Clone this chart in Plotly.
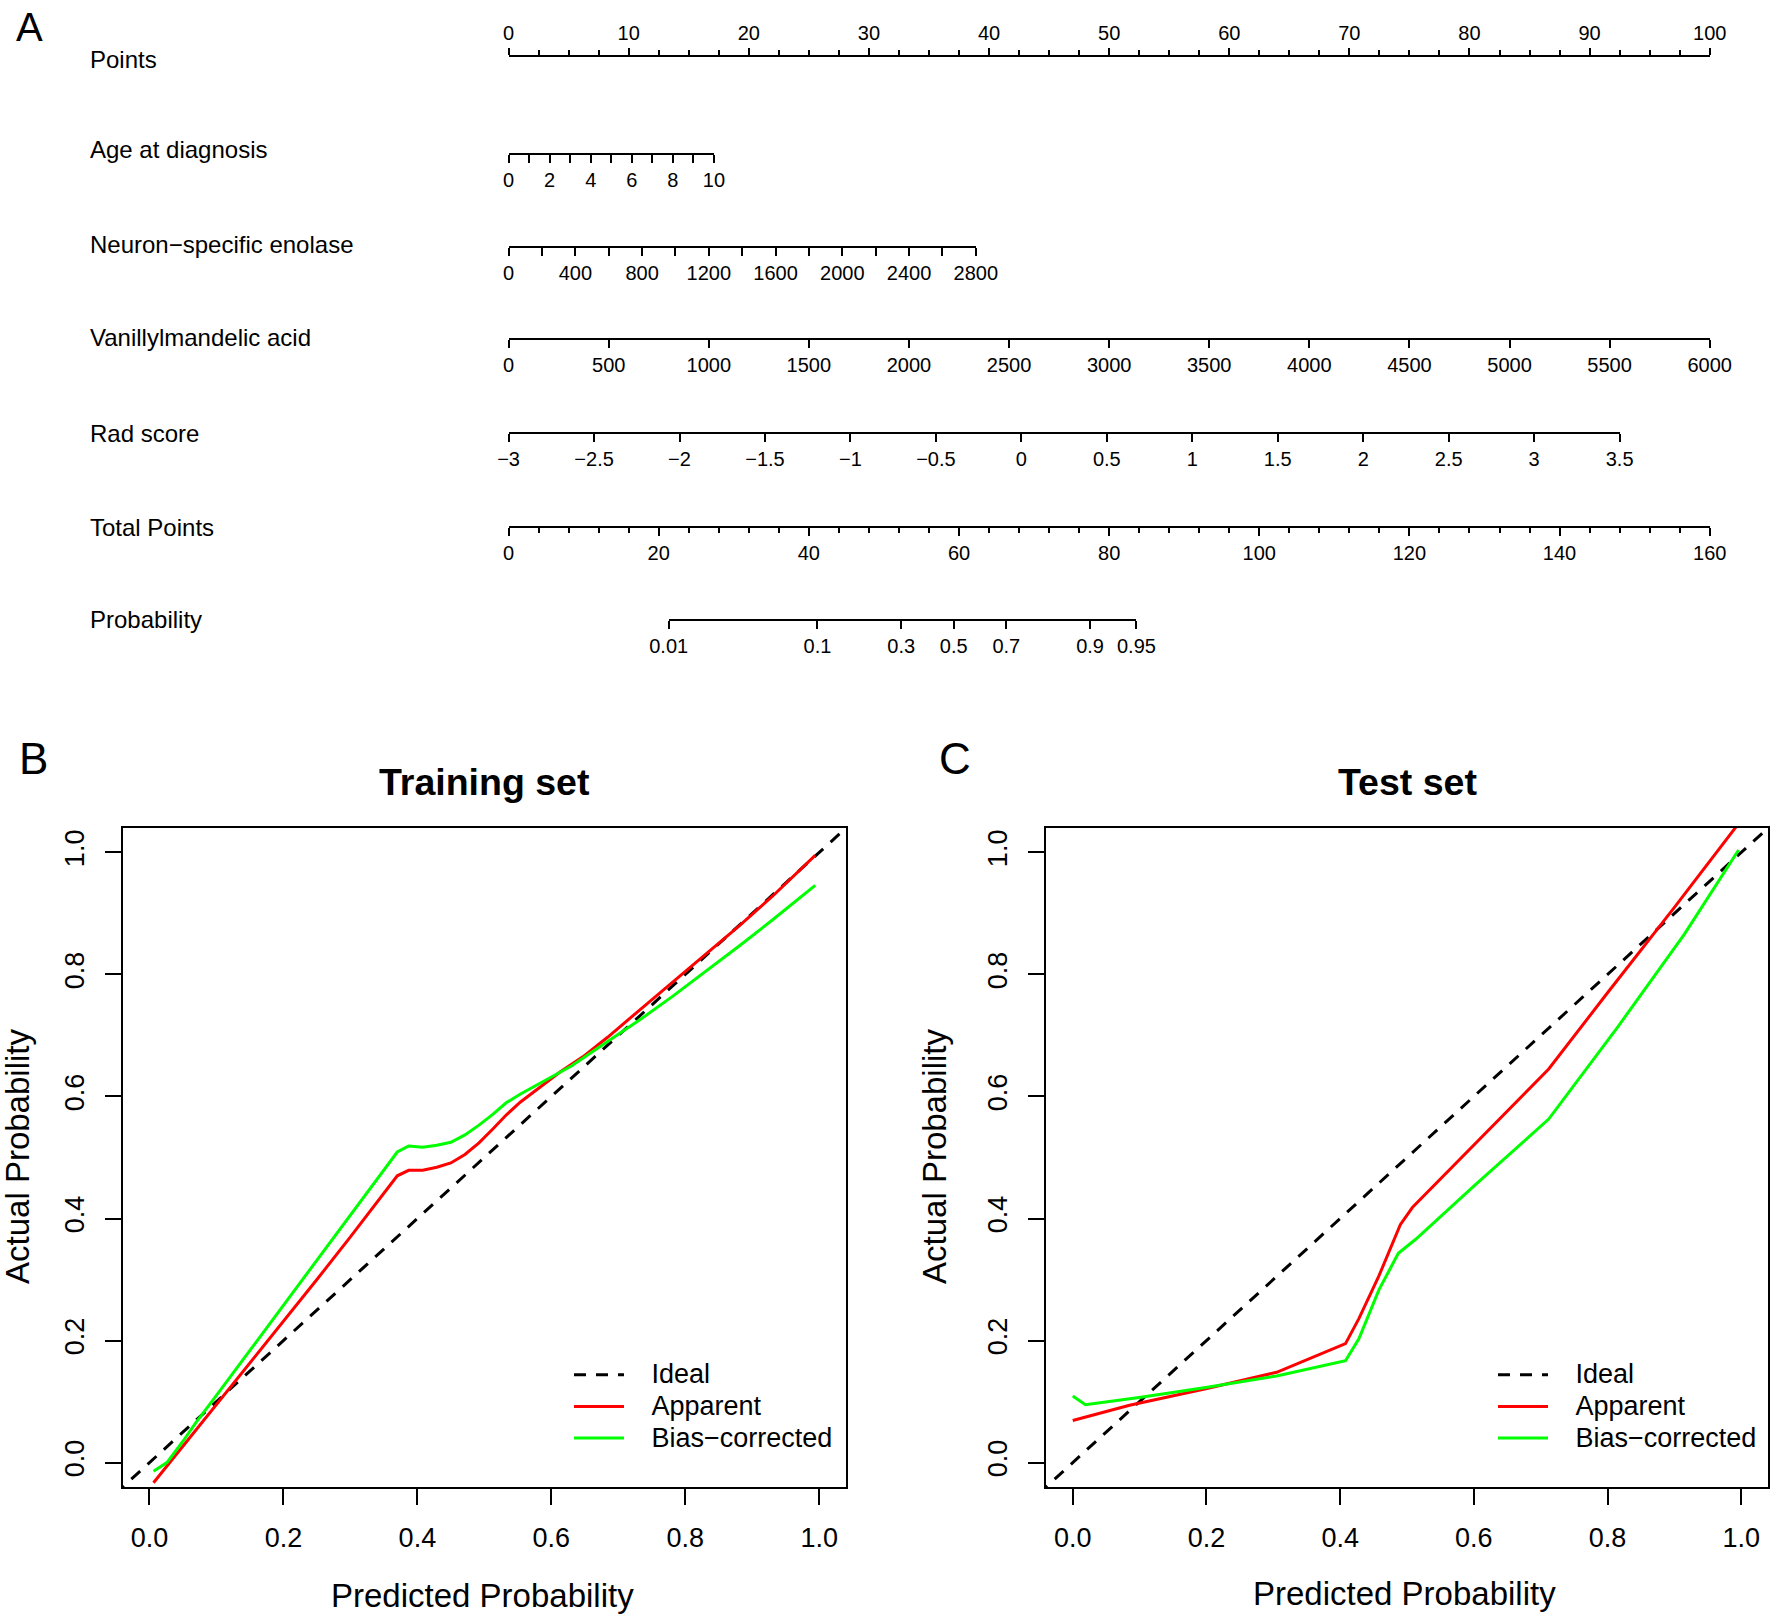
import numpy as np
import plotly.graph_objects as go

W, H = 1770, 1615
FONT = "Liberation Sans, Arial, Helvetica, sans-serif"

# ---------------- Nomogram data ----------------
nomo_names = ["Points", "Age at diagnosis", "Neuron\u2212specific enolase",
              "Vanillylmandelic acid", "Rad score", "Total Points", "Probability"]
points_range = [0, 100]
age_range = [0, 10]
age_points_max = 17.1
nse_range = [0, 2800]
nse_points_max = 38.9
vma_range = [0, 6000]
vma_points_max = 100.0
rad_range = [-3, 3.5]
rad_points_max = 92.5
total_range = [0, 160]
prob_ticks = [0.01, 0.1, 0.3, 0.5, 0.7, 0.9, 0.95]
prob_ticktext = ["0.01", "0.1", "0.3", "0.5", "0.7", "0.9", "0.95"]
prob_total_at_half = 59.3      # total points where probability = 0.5
prob_points_per_logit = 8.264  # total points per unit of log-odds

# ---------------- Calibration data ----------------
train_app_x = [0.006, 0.05, 0.10, 0.15, 0.20, 0.25, 0.30, 0.35, 0.37, 0.387, 0.408, 0.429, 0.45,
               0.471, 0.492, 0.513, 0.533, 0.554, 0.579, 0.613, 0.647, 0.684, 0.730, 0.781,
               0.831, 0.881, 0.931, 0.973, 0.994]
train_app_y = [-0.033, 0.027, 0.095, 0.163, 0.232, 0.300, 0.370, 0.442, 0.470, 0.479, 0.479,
               0.484, 0.491, 0.505, 0.524, 0.547, 0.570, 0.591, 0.612, 0.640, 0.665, 0.697,
               0.740, 0.787, 0.834, 0.880, 0.929, 0.972, 0.995]
train_bc_x = [0.006, 0.026, 0.05, 0.069, 0.10, 0.15, 0.20, 0.25, 0.30, 0.35, 0.37, 0.387, 0.408,
              0.429, 0.45, 0.471, 0.492, 0.513, 0.533, 0.554, 0.588, 0.630, 0.684, 0.730,
              0.781, 0.831, 0.881, 0.931, 0.994]
train_bc_y = [-0.014, 0.0, 0.035, 0.065, 0.110, 0.184, 0.257, 0.330, 0.404, 0.478, 0.509, 0.519,
              0.517, 0.520, 0.525, 0.537, 0.553, 0.571, 0.590, 0.604, 0.624, 0.650, 0.690,
              0.724, 0.764, 0.805, 0.847, 0.890, 0.946]

test_app_x = [0.0, 0.021, 0.085, 0.199, 0.305, 0.408, 0.428, 0.458, 0.49, 0.508, 0.60, 0.712,
              0.80, 0.90, 1.0]
test_app_y = [0.069, 0.075, 0.094, 0.121, 0.148, 0.195, 0.236, 0.306, 0.39, 0.418, 0.52, 0.645,
              0.77, 0.91, 1.053]
test_bc_x = [0.0, 0.019, 0.102, 0.199, 0.305, 0.408, 0.428, 0.458, 0.487, 0.513, 0.602, 0.712,
             0.814, 0.915, 0.996]
test_bc_y = [0.109, 0.095, 0.107, 0.123, 0.142, 0.167, 0.203, 0.283, 0.343, 0.366, 0.455, 0.563,
             0.712, 0.866, 1.004]

ideal_x = [-0.1, 1.1]
ideal_y = [-0.1, 1.1]
cal_ticks = [0.0, 0.2, 0.4, 0.6, 0.8, 1.0]
legend_names = ["Ideal", "Apparent", "Bias\u2212corrected"]

# ---------------- Layout geometry (pixels) ----------------
PT0, PT1 = 508.6, 1709.7          # points 0 .. 100 horizontal span
row_y = [56, 154, 247, 339, 433, 527, 620]
label_x = 88


def fx(px):
    return px / W


def fy(py):
    return 1 - py / H


def pts_to_px(p, pmax=100.0):
    return PT0 + p / pmax * (PT1 - PT0)


fig = go.Figure()
layout = dict(width=W, height=H,
              margin=dict(l=0, r=0, t=0, b=0, pad=0, autoexpand=False),
              paper_bgcolor="white", plot_bgcolor="rgba(0,0,0,0)", showlegend=True,
              font=dict(family=FONT, color="black"))

layout["yaxis3"] = dict(domain=[0.55, 1.0], range=[0, 1], visible=False, anchor="free",
                        position=0, fixedrange=True)


def nomo_axis(name, domain_px, rng, ypx, side="bottom", **kw):
    d = dict(domain=[fx(domain_px[0]), fx(domain_px[1])], range=rng, anchor="free",
             position=fy(ypx), side=side, showline=True, linecolor="black", linewidth=2,
             ticks="outside", tickcolor="black", tickwidth=2, ticklen=8, showgrid=False,
             zeroline=False, fixedrange=True, ticklabelstandoff=0, automargin=False,
             tickfont=dict(family=FONT, size=20, color="black"))
    d.update(kw)
    layout[name] = d
    fig.add_trace(go.Scatter(x=list(rng), y=[0.5, 0.5], xaxis=name.replace("axis", ""),
                             yaxis="y3", mode="markers", marker=dict(opacity=0),
                             hoverinfo="skip", showlegend=False))


# Points (ticks and labels above)
nomo_axis("xaxis3", (pts_to_px(0), pts_to_px(100)), points_range, row_y[0], side="top",
          tick0=0, dtick=10, ticklen=7,
          minor=dict(dtick=2.5, ticks="outside", ticklen=5, tickwidth=2, tickcolor="black"))
# Age
nomo_axis("xaxis4", (pts_to_px(0), pts_to_px(age_points_max)), age_range, row_y[1],
          tick0=0, dtick=2,
          minor=dict(dtick=1, ticks="outside", ticklen=8, tickwidth=2, tickcolor="black"))
# NSE
nomo_axis("xaxis5", (pts_to_px(0), pts_to_px(nse_points_max)), nse_range, row_y[2],
          tick0=0, dtick=400,
          minor=dict(dtick=200, ticks="outside", ticklen=8, tickwidth=2, tickcolor="black"))
# VMA
nomo_axis("xaxis6", (pts_to_px(0), pts_to_px(vma_points_max)), vma_range, row_y[3],
          tick0=0, dtick=500)
# Rad score
nomo_axis("xaxis7", (pts_to_px(0), pts_to_px(rad_points_max)), rad_range, row_y[4],
          tick0=-3, dtick=0.5)
# Total points
nomo_axis("xaxis8", (pts_to_px(0), pts_to_px(100)), total_range, row_y[5],
          tick0=0, dtick=20,
          minor=dict(dtick=4, ticks="outside", ticklen=5, tickwidth=2, tickcolor="black"))
# Probability (log-odds scale)
logit = lambda p: np.log(p / (1 - p))
prob_lo = logit(prob_ticks[0])
prob_hi = logit(prob_ticks[-1])
tp_lo = prob_total_at_half + prob_points_per_logit * prob_lo
tp_hi = prob_total_at_half + prob_points_per_logit * prob_hi
nomo_axis("xaxis9", (pts_to_px(tp_lo, total_range[1]), pts_to_px(tp_hi, total_range[1])),
          [prob_lo, prob_hi], row_y[6], tickmode="array",
          tickvals=[logit(p) for p in prob_ticks], ticktext=prob_ticktext)

annotations = []
for name, yy in zip(nomo_names, [59, 150, 244, 337, 433, 527, 619]):
    annotations.append(dict(text=name, x=fx(label_x), y=fy(yy), xref="paper", yref="paper",
                            xanchor="left", yanchor="middle", showarrow=False,
                            font=dict(family=FONT, size=24, color="black")))

# ---------------- Calibration panels ----------------
RED, GREEN = "#FF0000", "#00FF00"
NB = "\u00a0" * 3


def leg_label(s):
    return '<span style="font-size:27px">%s%s</span>' % (NB, s)


cal_sets = [
    ("x", "y", "legend", train_app_x, train_app_y, train_bc_x, train_bc_y),
    ("x2", "y2", "legend2", test_app_x, test_app_y, test_bc_x, test_bc_y),
]
for xa, ya, lg, ax_, ay_, bx_, by_ in cal_sets:
    fig.add_trace(go.Scatter(x=ideal_x, y=ideal_y, xaxis=xa, yaxis=ya, mode="lines",
                             name=leg_label(legend_names[0]), legend=lg,
                             line=dict(color="black", width=3, dash="12px,10px")))
    fig.add_trace(go.Scatter(x=ax_, y=ay_, xaxis=xa, yaxis=ya, mode="lines",
                             name=leg_label(legend_names[1]), legend=lg,
                             line=dict(color=RED, width=3)))
    fig.add_trace(go.Scatter(x=bx_, y=by_, xaxis=xa, yaxis=ya, mode="lines",
                             name=leg_label(legend_names[2]), legend=lg,
                             line=dict(color=GREEN, width=3)))

cal_x_common = dict(range=[-0.04, 1.04], tickvals=cal_ticks, tickformat=".1f",
                    ticks="outside", ticklen=16, tickwidth=2, tickcolor="black",
                    showline=True, mirror=True, linecolor="black", linewidth=2,
                    showgrid=False, zeroline=False, fixedrange=True, ticklabelstandoff=10,
                    automargin=False,
                    tickfont=dict(family=FONT, size=27, color="black"))
cal_y_common = dict(cal_x_common)
cal_y_common.update(tickangle=-90, ticklabelstandoff=10)

y_dom = [fy(1487), fy(828)]
layout["xaxis"] = dict(cal_x_common, domain=[fx(122.7), fx(846)], anchor="y")
layout["yaxis"] = dict(cal_y_common, domain=y_dom, anchor="x")
layout["xaxis2"] = dict(cal_x_common, domain=[fx(1046), fx(1768)], anchor="y2")
layout["yaxis2"] = dict(cal_y_common, domain=y_dom, anchor="x2")

leg_common = dict(xanchor="left", yanchor="top", bgcolor="rgba(0,0,0,0)",
                  font=dict(family=FONT, size=22, color="black"), itemwidth=50,
                  tracegroupgap=0)
layout["legend"] = dict(leg_common, x=fx(569), y=fy(1354))
layout["legend2"] = dict(leg_common, x=fx(1493), y=fy(1354))

# Titles, letters, axis titles
for txt, xx, yy in [("Training set", 484.5, 782), ("Test set", 1407, 782)]:
    annotations.append(dict(text="<b>%s</b>" % txt, x=fx(xx), y=fy(yy), xref="paper",
                            yref="paper", xanchor="center", yanchor="middle", showarrow=False,
                            font=dict(family=FONT, size=37.5, color="black")))
for txt, xx, yy, fs in [("A", 29, 27, 40), ("B", 33, 759, 44), ("C", 955, 759, 44)]:
    annotations.append(dict(text=txt, x=fx(xx), y=fy(yy), xref="paper", yref="paper",
                            xanchor="center", yanchor="middle", showarrow=False,
                            font=dict(family=FONT, size=fs, color="black")))
for xx, yy in [(483, 1595), (1404, 1593)]:
    annotations.append(dict(text="Predicted Probability", x=fx(xx), y=fy(yy), xref="paper",
                            yref="paper", xanchor="center", yanchor="middle", showarrow=False,
                            font=dict(family=FONT, size=33, color="black")))
for xx in [17, 934]:
    annotations.append(dict(text="Actual Probability", x=fx(xx), y=fy(1157), xref="paper",
                            yref="paper", xanchor="center", yanchor="middle", showarrow=False,
                            textangle=-90, font=dict(family=FONT, size=33, color="black")))

layout["annotations"] = annotations
fig.update_layout(**layout)
fig.write_html("out.html", config={"displayModeBar": False, "staticPlot": True},
               post_script="document.body.style.margin='0px';")
